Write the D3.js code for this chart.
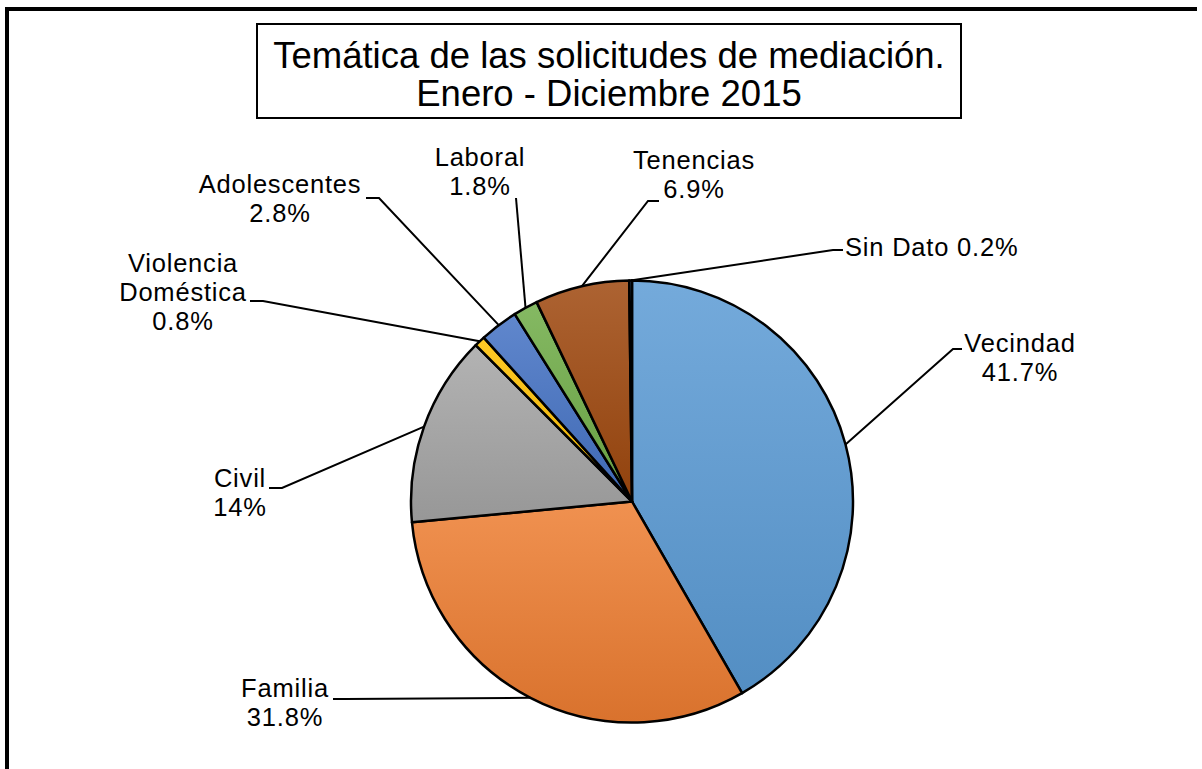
<!DOCTYPE html>
<html>
<head>
<meta charset="utf-8">
<script src="https://cdn.jsdelivr.net/npm/d3@7"></script>
<style>
  body { margin: 0; background: #fff; }
  text { font-family: "Liberation Sans", Arial, sans-serif; fill: #000; }
</style>
</head>
<body>
<div id="chart"></div>
<script>
const titleLines = ["Temática de las solicitudes de mediación.", "Enero - Diciembre 2015"];
const categories = ["Vecindad", "Familia", "Civil", "Violencia Doméstica", "Adolescentes", "Laboral", "Tenencias", "Sin Dato"];
const values = [41.7, 31.8, 14, 0.8, 2.8, 1.8, 6.9, 0.2];
const pctLabels = ["41.7%", "31.8%", "14%", "0.8%", "2.8%", "1.8%", "6.9%", "0.2%"];
const colors = ["#5B9BD5", "#ED7D31", "#A5A5A5", "#FFC000", "#4472C4", "#70AD47", "#9E480E", "#255E91"];

// where each label sits and where its leader line bends (page pixels)
const labelLayout = [
    { x: 1020, y: 352, mode: "stack", elbow: [953, 349], end: [962, 349] },
    { x: 285, y: 697, mode: "stack", elbow: [345, 699], end: [333, 699] },
    { x: 240, y: 487, mode: "stack", elbow: [282, 488], end: [269, 488] },
    { x: 183, y: 272, mode: "wrap", elbow: [263, 301], end: [250, 301] },
    { x: 280, y: 193, mode: "stack", elbow: [379, 198], end: [366, 198] },
    { x: 480, y: 166, mode: "stack", elbow: [516, 198], end: [516, 198] },
    { x: 694, y: 169, mode: "stack", elbow: [648, 201], end: [659, 201] },
    { x: 845, y: 256, mode: "inline", anchor: "start", elbow: [833, 250], end: [843, 250] }
];

const width = 1202;
const height = 769;
const cx = 632, cy = 501.5, radius = 221;
const lineH = 29;

const svg = d3.select("#chart").append("svg")
    .attr("width", width)
    .attr("height", height);

// frame (only left and top edges are visible)
svg.append("path")
    .attr("d", `M7,${height} V9 H1197`)
    .attr("fill", "none")
    .attr("stroke", "#000")
    .attr("stroke-width", 4);

// title box
svg.append("rect")
    .attr("x", 257).attr("y", 24)
    .attr("width", 704).attr("height", 94)
    .attr("fill", "#fff")
    .attr("stroke", "#000")
    .attr("stroke-width", 2);

svg.selectAll(".title")
    .data(titleLines)
    .enter().append("text")
    .attr("class", "title")
    .attr("x", 609)
    .attr("y", (d, i) => 68 + i * 38)
    .attr("text-anchor", "middle")
    .style("font-size", "36.5px")
    .text(d => d);

// gradients, lighter at top
const defs = svg.append("defs");
colors.forEach((c, i) => {
    const g = defs.append("linearGradient")
        .attr("id", "grad" + i)
        .attr("x1", 0).attr("y1", 0).attr("x2", 0).attr("y2", 1);
    g.append("stop").attr("offset", "0%").attr("stop-color", d3.interpolateRgb(c, "#fff")(0.15));
    g.append("stop").attr("offset", "100%").attr("stop-color", d3.color(c).darker(0.25));
});

const pie = d3.pie().sort(null).value(d => d);
const arcs = pie(values);
const arc = d3.arc().innerRadius(0).outerRadius(radius);
const edge = d3.arc().innerRadius(radius).outerRadius(radius);

const g = svg.append("g")
    .attr("transform", `translate(${cx},${cy})`);

g.selectAll("path.slice")
    .data(arcs)
    .enter().append("path")
    .attr("class", "slice")
    .attr("d", arc)
    .attr("fill", (d, i) => `url(#grad${i})`)
    .attr("stroke", "#000")
    .attr("stroke-width", 2.5)
    .attr("stroke-linejoin", "round");

// leader lines
svg.selectAll("path.leader")
    .data(arcs)
    .enter().append("path")
    .attr("class", "leader")
    .attr("d", (d, i) => {
        const p = edge.centroid(d);
        const L = labelLayout[i];
        return d3.line()([[cx + p[0], cy + p[1]], L.elbow, L.end]);
    })
    .attr("fill", "none")
    .attr("stroke", "#000")
    .attr("stroke-width", 2);

// labels
const labelLines = (i) => {
    const L = labelLayout[i];
    if (L.mode === "wrap") return categories[i].split(" ").concat([pctLabels[i]]);
    if (L.mode === "inline") return [categories[i] + " " + pctLabels[i]];
    return [categories[i], pctLabels[i]];
};

categories.forEach((c, i) => {
    const L = labelLayout[i];
    const t = svg.append("text")
        .attr("text-anchor", L.anchor || "middle")
        .style("font-size", "25.5px")
        .style("letter-spacing", "0.8px");
    labelLines(i).forEach((s, j) => {
        t.append("tspan")
            .attr("x", L.x)
            .attr("y", L.y + j * lineH)
            .text(s);
    });
});
</script>
</body>
</html>
